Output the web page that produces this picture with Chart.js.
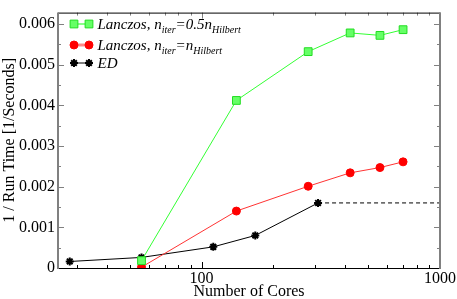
<!DOCTYPE html>
<html>
<head>
<meta charset="utf-8">
<script src="https://cdn.jsdelivr.net/npm/chart.js@4.4.0/dist/chart.umd.min.js"></script>
<style>
  html, body { margin: 0; padding: 0; background: #fff; }
  #wrap { width: 457px; height: 299px; }
</style>
</head>
<body>
<div id="wrap"><canvas id="myChart" width="457" height="299"></canvas></div>
<script>
// data
var coresLanczos = [56, 140, 280, 420, 560, 700];
var lanczosHalf = [0.00018, 0.00412, 0.00532, 0.00578, 0.00572, 0.00586];
var lanczosFull = [0.00002, 0.00140, 0.00201, 0.00234, 0.00247, 0.00261];
var coresED = [28, 56, 112, 168, 308];
var edValues = [0.00016, 0.00026, 0.00052, 0.00080, 0.00160];
var edExtrapX = [308, 1000];
var edExtrapY = [0.00160, 0.00160];
var yTickValues = [0, 0.001, 0.002, 0.003, 0.004, 0.005, 0.006];
var xTickValues = [100, 1000];

function pts(xs, ys) {
    return xs.map(function (x, i) { return { x: x, y: ys[i] }; });
}

var serif = "'Liberation Serif', 'DejaVu Serif', serif";

// frame with inward ticks on all four sides
var framePlugin = {
    id: 'frame',
    afterDatasetsDraw: function (chart) {
        var ctx = chart.ctx, a = chart.chartArea;
        var xs = chart.scales.x, ys = chart.scales.y;
        ctx.save();
        // y ticks (major + minor), left and right
        ctx.strokeStyle = '#808080';
        ctx.lineWidth = 1;
        for (var k = 0; k <= 12; k++) {
            var v = k * 0.0005;
            var py = Math.round(ys.getPixelForValue(v)) + 0.5;
            var len = (k % 2 === 0) ? 6 : 3;
            ctx.beginPath();
            ctx.moveTo(a.left, py); ctx.lineTo(a.left + len, py);
            ctx.moveTo(a.right, py); ctx.lineTo(a.right - len, py);
            ctx.stroke();
        }
        // x ticks, bottom and top
        for (var d = 10; d <= 1000; d *= 10) {
            for (var m = 1; m <= 9; m++) {
                var xv = d * m;
                if (xv < 25 || xv > 1000) continue;
                var px = Math.round(xs.getPixelForValue(xv)) + 0.5;
                var l2 = (m === 1) ? 6 : 3;
                ctx.strokeStyle = '#000';
                ctx.beginPath();
                ctx.moveTo(px, a.bottom); ctx.lineTo(px, a.bottom - l2);
                ctx.stroke();
                ctx.strokeStyle = '#808080';
                ctx.beginPath();
                ctx.moveTo(px, a.top); ctx.lineTo(px, a.top + l2);
                ctx.stroke();
            }
        }
        // border
        ctx.lineWidth = 1;
        ctx.strokeStyle = '#000';
        ctx.beginPath();
        ctx.moveTo(a.left, a.top + 0.5); ctx.lineTo(a.right, a.top + 0.5);
        ctx.moveTo(a.left, a.bottom + 0.5); ctx.lineTo(a.right, a.bottom + 0.5);
        ctx.stroke();
        ctx.lineWidth = 2;
        ctx.strokeStyle = '#808080';
        ctx.beginPath();
        ctx.moveTo(a.left, a.top); ctx.lineTo(a.left, a.bottom + 1);
        ctx.moveTo(a.right, a.top); ctx.lineTo(a.right, a.bottom + 1);
        ctx.stroke();
        ctx.restore();
    }
};

// legend with subscripts
var legendPlugin = {
    id: 'subLegend',
    afterDraw: function (chart) {
        var ctx = chart.ctx;
        var rows = [
            { y: 24, line: '#88ff88', lw: 2, fill: '#66ff66', border: '#22dd22', style: 'rect', r: 5.5, bw: 1,
              parts: [['Lanczos, n', 0], ['iter', 1], ['=0.5n', 0], ['Hilbert', 1]] },
            { y: 45, line: '#ff8888', lw: 3, fill: '#ff0000', border: '#ff0000', style: 'circle', r: 4, bw: 1,
              parts: [['Lanczos, n', 0], ['iter', 1], ['=n', 0], ['Hilbert', 1]] },
            { y: 63, line: '#000000', lw: 1, fill: '#000000', border: '#000000', style: 'star', r: 4, bw: 2,
              parts: [['ED', 0]] }
        ];
        ctx.save();
        rows.forEach(function (row) {
            ctx.strokeStyle = row.line;
            ctx.lineWidth = row.lw;
            ctx.beginPath();
            ctx.moveTo(74, row.y); ctx.lineTo(89, row.y);
            ctx.stroke();
            ctx.fillStyle = row.fill;
            ctx.strokeStyle = row.border;
            ctx.lineWidth = row.bw;
            [74, 89].forEach(function (mx) {
                Chart.helpers.drawPoint(ctx, { pointStyle: row.style, radius: row.r, rotation: 0, borderWidth: row.bw }, mx, row.y);
            });
            var tx = 97.5;
            ctx.fillStyle = '#000';
            ctx.textBaseline = 'alphabetic';
            row.parts.forEach(function (p) {
                ctx.font = 'italic ' + (p[1] ? 10 : 15) + 'px ' + serif;
                ctx.fillText(p[0], tx, row.y + 5 + (p[1] ? 4 : 0));
                tx += ctx.measureText(p[0]).width;
            });
        });
        ctx.restore();
    }
};

var ctx = document.getElementById('myChart').getContext('2d');
var chart = new Chart(ctx, {
    type: 'line',
    data: {
        datasets: [{
            label: 'Lanczos half',
            data: pts(coresLanczos, lanczosHalf),
            borderColor: '#33ff33',
            borderWidth: 1,
            backgroundColor: '#66ff66',
            pointStyle: 'rect',
            pointRadius: 5.5,
            pointBorderColor: '#22dd22',
            pointBorderWidth: 1
        }, {
            label: 'Lanczos full',
            data: pts(coresLanczos, lanczosFull),
            borderColor: '#ff3333',
            borderWidth: 1,
            backgroundColor: '#ff0000',
            pointStyle: 'circle',
            pointRadius: 4,
            pointBorderColor: '#ff0000',
            pointBorderWidth: 1
        }, {
            label: 'ED',
            data: pts(coresED, edValues),
            borderColor: '#000',
            borderWidth: 1,
            backgroundColor: '#000',
            pointStyle: 'star',
            pointRadius: 4,
            pointBorderColor: '#000',
            pointBorderWidth: 2
        }, {
            label: 'ED extrapolation',
            data: pts(edExtrapX, edExtrapY),
            borderColor: '#000',
            borderWidth: 1,
            borderDash: [4, 3],
            pointRadius: 0
        }]
    },
    options: {
        responsive: false,
        animation: false,
        events: [],
        layout: { padding: { top: 2, right: 17, left: 0, bottom: 0 } },
        plugins: { legend: { display: false }, tooltip: { enabled: false } },
        scales: {
            x: {
                type: 'logarithmic',
                min: 25,
                max: 1000,
                grid: { display: false, drawTicks: false },
                border: { display: false },
                afterBuildTicks: function (scale) {
                    scale.ticks = xTickValues.map(function (v) { return { value: v }; });
                },
                afterFit: function (scale) { scale.height = 31; },
                ticks: {
                    autoSkip: false,
                    maxRotation: 0,
                    padding: 1,
                    color: '#000',
                    font: { family: serif, size: 16 },
                    callback: function (v) { return String(v); }
                },
                title: {
                    display: true,
                    text: 'Number of Cores',
                    color: '#000',
                    padding: { top: 0, bottom: -2 },
                    font: { family: serif, size: 16 }
                }
            },
            y: {
                min: 0,
                max: 0.00628,
                grid: { display: false, drawTicks: false },
                border: { display: false },
                afterBuildTicks: function (scale) {
                    scale.ticks = yTickValues.map(function (v) { return { value: v }; });
                },
                afterFit: function (scale) { scale.width = 58; },
                ticks: {
                    padding: 3,
                    color: '#000',
                    font: { family: serif, size: 16 },
                    callback: function (v) { return v === 0 ? '0' : v.toFixed(3); }
                },
                title: {
                    display: true,
                    text: '1 / Run Time [1/Seconds]',
                    color: '#000',
                    padding: { top: 0, bottom: 0 },
                    font: { family: serif, size: 16 }
                }
            }
        }
    },
    plugins: [framePlugin, legendPlugin]
});
</script>
</body>
</html>
